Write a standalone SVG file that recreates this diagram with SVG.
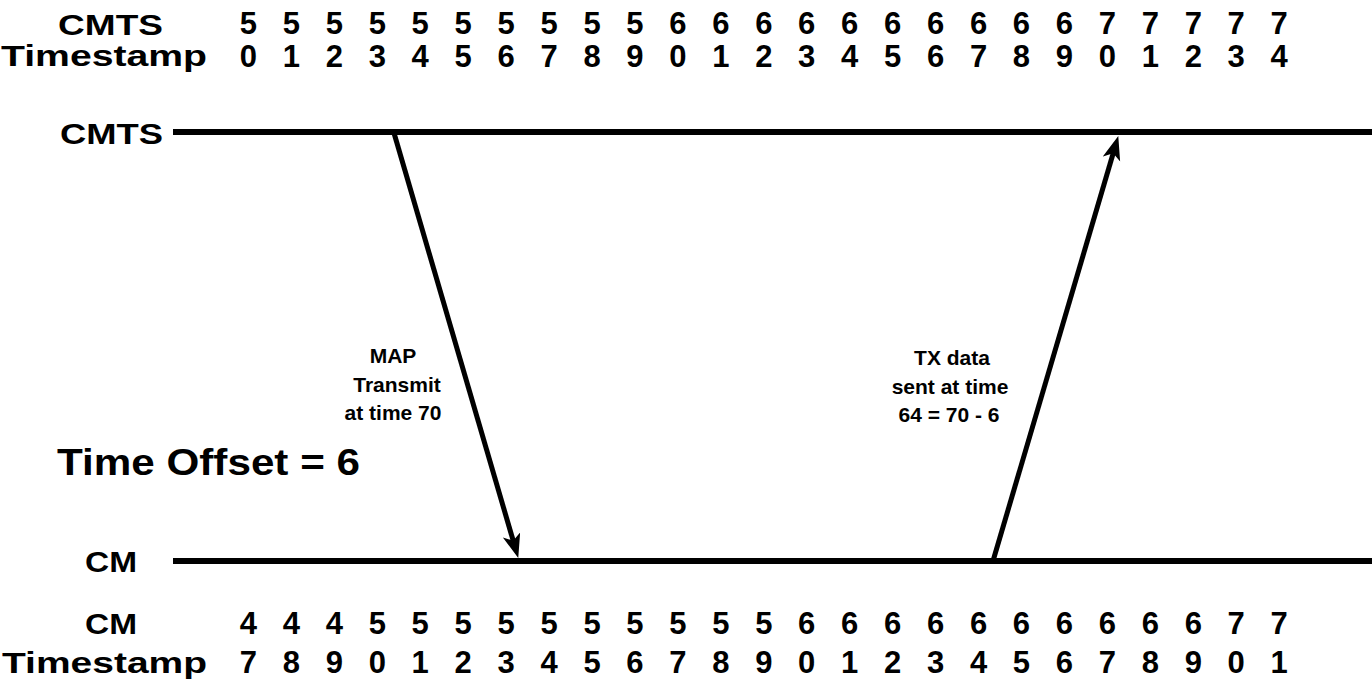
<svg xmlns="http://www.w3.org/2000/svg" width="1372" height="679" viewBox="0 0 1372 679">
  <style>
    .lbl { font-family: "Liberation Sans", Arial, sans-serif; font-weight: bold; font-size: 29px; fill: #000; }
    .dig { font-family: "Liberation Sans", Arial, sans-serif; font-weight: bold; font-size: 31px; fill: #000; }
    .note { font-family: "Liberation Sans", Arial, sans-serif; font-weight: bold; font-size: 21px; fill: #000; text-anchor: middle; }
    .big { font-family: "Liberation Sans", Arial, sans-serif; font-weight: bold; font-size: 37px; fill: #000; }
    .tl { stroke: #000; stroke-width: 6; fill: none; }
    .arr { stroke: #000; stroke-width: 5; fill: none; marker-end: url(#head); }
  </style>
  <defs>
    <marker id="head" markerUnits="userSpaceOnUse" markerWidth="26" markerHeight="20" viewBox="0 0 26 20" refX="11" refY="9" orient="auto">
      <path d="M0,0 L24,9 L0,18 L6,9 z" fill="#000"/>
    </marker>
  </defs>
  <rect width="1372" height="679" fill="#fff"/>

  <g id="cmts-scale">
    <text class="lbl" x="58" y="35" textLength="105" lengthAdjust="spacingAndGlyphs">CMTS</text>
    <text class="lbl" x="1" y="66" textLength="206" lengthAdjust="spacingAndGlyphs">Timestamp</text>
    <text class="dig" x="239.8" y="34" textLength="1048" lengthAdjust="spacing">5 5 5 5 5 5 5 5 5 5 6 6 6 6 6 6 6 6 6 6 7 7 7 7 7</text>
    <text class="dig" x="239.8" y="67" textLength="1048" lengthAdjust="spacing">0 1 2 3 4 5 6 7 8 9 0 1 2 3 4 5 6 7 8 9 0 1 2 3 4</text>
  </g>

  <g id="cmts-line">
    <text class="lbl" x="60" y="144" textLength="103" lengthAdjust="spacingAndGlyphs">CMTS</text>
    <line class="tl" x1="173" y1="132" x2="1372" y2="132"/>
  </g>

  <g id="cm-line">
    <text class="lbl" x="85" y="572" textLength="52" lengthAdjust="spacingAndGlyphs">CM</text>
    <line class="tl" x1="173" y1="561" x2="1372" y2="561"/>
  </g>

  <g id="cm-scale">
    <text class="lbl" x="85" y="634" textLength="52" lengthAdjust="spacingAndGlyphs">CM</text>
    <text class="lbl" x="2" y="673" textLength="205" lengthAdjust="spacingAndGlyphs">Timestamp</text>
    <text class="dig" x="239.8" y="634" textLength="1048" lengthAdjust="spacing">4 4 4 5 5 5 5 5 5 5 5 5 5 6 6 6 6 6 6 6 6 6 6 7 7</text>
    <text class="dig" x="239.8" y="673" textLength="1048" lengthAdjust="spacing">7 8 9 0 1 2 3 4 5 6 7 8 9 0 1 2 3 4 5 6 7 8 9 0 1</text>
  </g>

  <g id="offset">
    <text class="big" x="57" y="475" textLength="303" lengthAdjust="spacingAndGlyphs">Time Offset = 6</text>
  </g>

  <g id="connectors">
    <line class="arr" x1="394" y1="133" x2="514.6" y2="545.5"/>
    <line class="arr" x1="993" y1="561" x2="1114.6" y2="148.5"/>
  </g>

  <g id="map-label">
    <text class="note" x="393" y="363">MAP</text>
    <text class="note" x="397" y="392">Transmit</text>
    <text class="note" x="393" y="420">at time 70</text>
  </g>

  <g id="tx-label">
    <text class="note" x="952" y="365">TX data</text>
    <text class="note" x="950" y="394">sent at time</text>
    <text class="note" x="949" y="422">64 = 70 - 6</text>
  </g>
</svg>
